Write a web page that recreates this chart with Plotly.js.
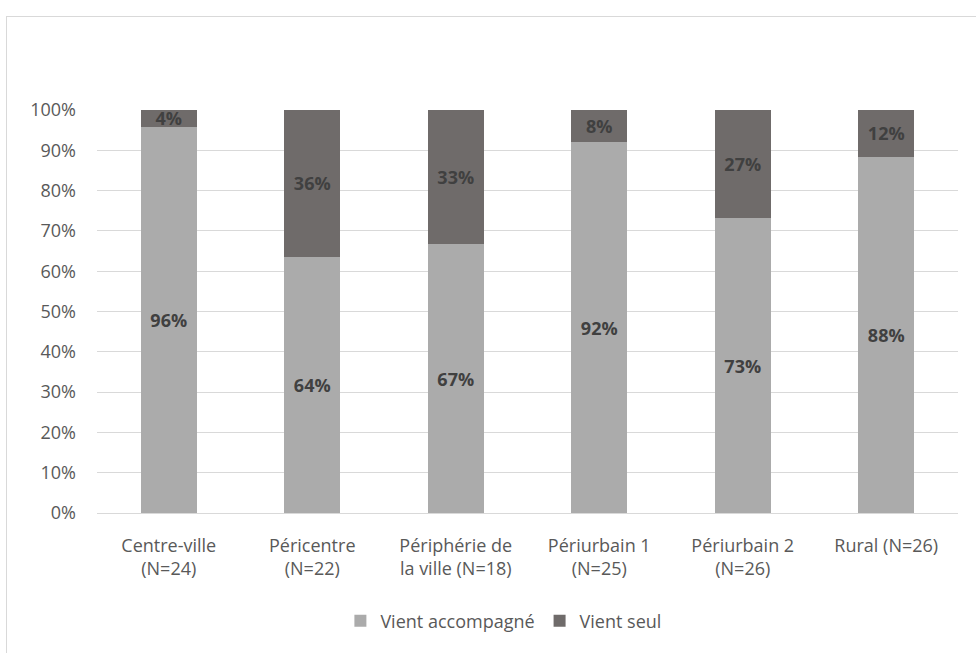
<!DOCTYPE html>
<html>
<head>
<meta charset="utf-8">
<script src="https://cdn.plot.ly/plotly-3.0.1.min.js"></script>
<style>
  html, body { margin: 0; padding: 0; background: #fff; }
  #frame { position: absolute; left: 6px; top: 16px; width: 1000px; height: 700px; border: 1.5px solid #d9d9d9; }
  #chart { position: absolute; left: 0; top: 0; width: 976px; height: 653px; }
</style>
</head>
<body>
<div id="frame"></div>
<div id="chart"></div>
<script>
const categories = [
  "Centre-ville<br>(N=24)",
  "Péricentre<br>(N=22)",
  "Périphérie de<br>la ville (N=18)",
  "Périurbain 1<br>(N=25)",
  "Périurbain 2<br>(N=26)",
  "Rural (N=26)"
];
const accompagne = [95.8, 63.6, 66.7, 92.0, 73.1, 88.4];
const seul = [4.2, 36.4, 33.3, 8.0, 26.9, 11.6];
const yTickVals = [0, 10, 20, 30, 40, 50, 60, 70, 80, 90, 100];
const yTickText = ["0%", "10%", "20%", "30%", "40%", "50%", "60%", "70%", "80%", "90%", "100%"];

const FONT = "Open Sans, DejaVu Sans, sans-serif";
const labelFont = { family: FONT, size: 18, color: "#404040", weight: "bold" };

const traces = [
  {
    type: "bar", name: "Vient accompagné", x: categories, y: accompagne,
    marker: { color: "#ababab" },
    texttemplate: "<b>%{y:.0f}%</b>", textposition: "inside", insidetextanchor: "middle",
    constraintext: "none", textfont: labelFont, hoverinfo: "skip"
  },
  {
    type: "bar", name: "Vient seul", x: categories, y: seul,
    marker: { color: "#6f6b6a" },
    texttemplate: "<b>%{y:.0f}%</b>", textposition: "inside", insidetextanchor: "middle",
    constraintext: "none", textfont: labelFont, hoverinfo: "skip"
  }
];

const layout = {
  width: 976, height: 653,
  paper_bgcolor: "rgba(0,0,0,0)", plot_bgcolor: "rgba(0,0,0,0)",
  barmode: "stack", bargap: 0.61,
  margin: { l: 97, r: 18, t: 110, b: 140 },
  font: { family: FONT, size: 18, color: "#595959" },
  xaxis: {
    type: "category", showgrid: false, showline: true, linecolor: "#d9d9d9", linewidth: 1,
    ticks: "", tickfont: { family: FONT, size: 18, color: "#595959" }, ticklabelstandoff: 16
  },
  yaxis: {
    range: [0, 100], tickvals: yTickVals, ticktext: yTickText,
    showgrid: true, gridcolor: "#d9d9d9", gridwidth: 1, zeroline: false, showline: false,
    ticks: "", tickfont: { family: FONT, size: 18, color: "#595959" }, ticklabelstandoff: 20
  },
  showlegend: true,
  legend: {
    orientation: "h", x: 0.472, xanchor: "center", y: -0.268, yanchor: "middle",
    font: { family: FONT, size: 18, color: "#595959" }, traceorder: "normal",
    itemwidth: 30
  }
};

Plotly.newPlot("chart", traces, layout, { displayModeBar: false, staticPlot: true });
</script>
</body>
</html>
